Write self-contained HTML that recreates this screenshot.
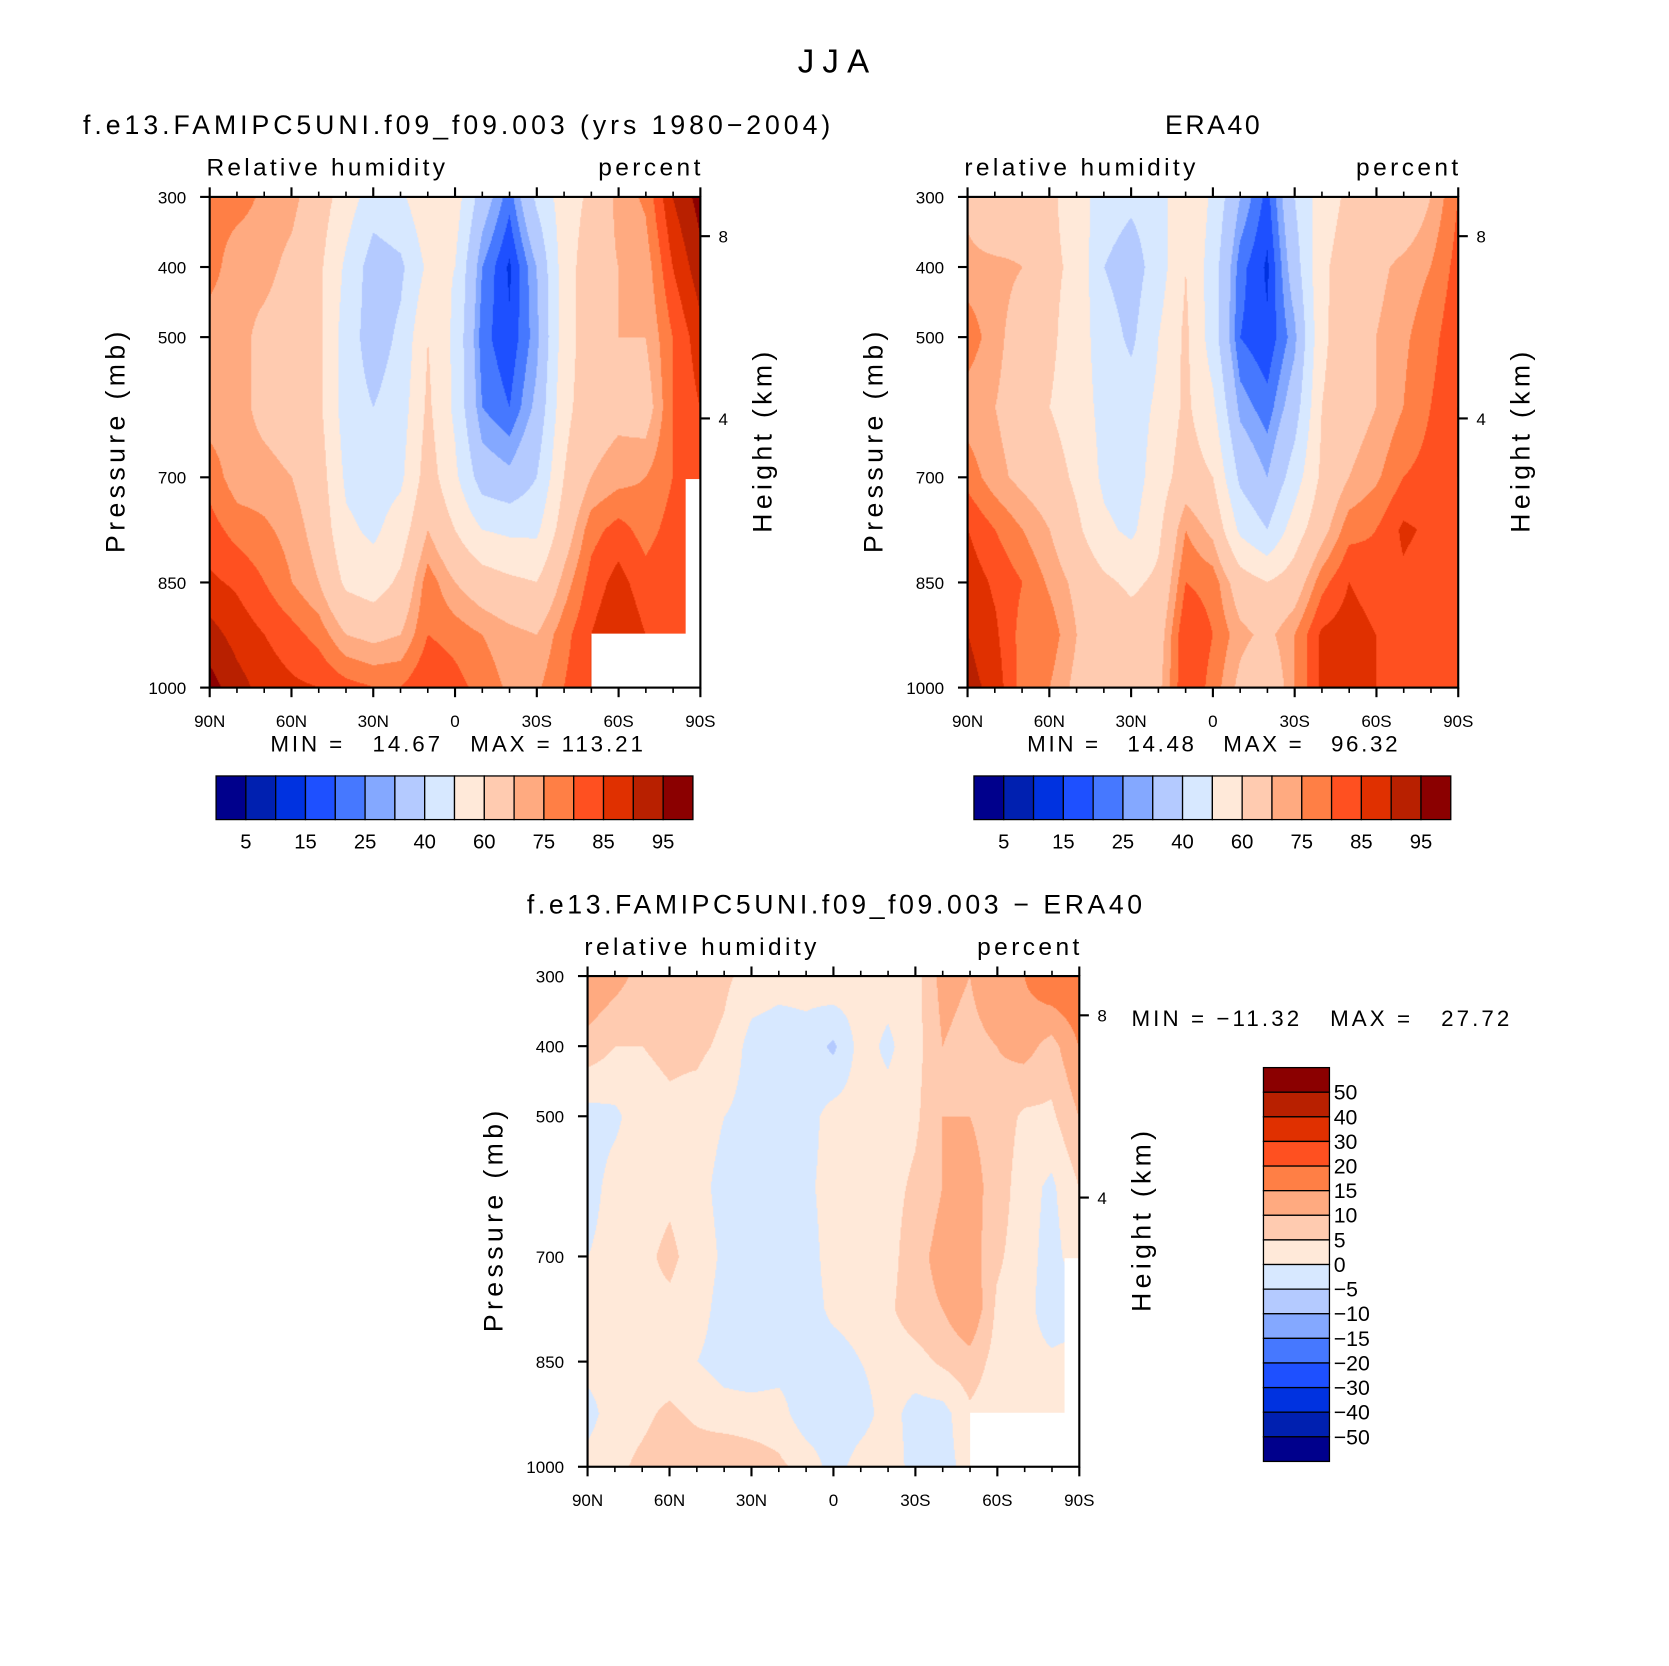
<!DOCTYPE html>
<html><head><meta charset="utf-8"><style>
html,body{margin:0;padding:0;background:#fff;width:1669px;height:1666px;overflow:hidden}
#wrap{position:absolute;left:0;top:0;width:1568px;height:1565px;transform:scale(1.06441);transform-origin:0 0}
canvas{position:absolute}
svg{position:absolute;left:0;top:0}
text{font-family:"Liberation Sans",sans-serif;fill:#000;white-space:pre}
</style></head><body>
<div id="wrap">
<canvas id="c1" width="461" height="461" style="left:197px;top:185px"></canvas>
<canvas id="c2" width="461" height="461" style="left:909px;top:185px"></canvas>
<canvas id="c3" width="462" height="461" style="left:552px;top:917px"></canvas>
<svg id="svg" width="1568" height="1565" viewBox="0 0 1568 1565"></svg>
</div>
<script>
const lats=["90N","80N","70N","60N","50N","40N","30N","20N","10N","0","10S","20S","30S","40S","50S","60S","70S","80S","90S"];
const levels=[300,400,500,600,700,775,850,925,1000];
const xTickLabels=["90N","60N","30N","0","30S","60S","90S"];
const pTicks=[300,400,500,700,850,1000];
const hTicks=[{km:8,p:356},{km:4,p:616}];
const rhBounds=[5,10,15,20,25,30,40,50,60,70,75,80,85,90,95];
const rhLabels=["5","15","25","40","60","75","85","95"];
const diffBounds=[-50,-40,-30,-20,-15,-10,-5,0,5,10,15,20,30,40,50];
const diffLabels=["50","40","30","20","15","10","5","0","−5","−10","−15","−20","−30","−40","−50"];
const palette=["#00008c","#0020b0","#0032e0","#1e50ff","#4678ff","#84a8ff","#b4caff","#d7e8ff","#ffe9d9","#ffcbb0","#ffaa80","#ff7f45","#ff5020","#e03000","#b82000","#8b0000"];
const modelRH=[
[77,77,72,72,78,82,86,92,97],[77,72,72,72,72,78,84,88,92],[74,72,68,68,72,76,80,85,88],
[72,68,66,66,70,73,75,82,86],[65,62,62,62,65,67,70,78,85],[55,48,45,45,48,52,58,70,82],
[45,35,35,40,45,48,55,68,80],[48,38,42,45,48,55,62,70,80],[58,52,60,62,65,70,78,80,85],
[55,50,48,48,52,60,70,78,82],[35,25,22,25,35,50,65,75,78],[22,14,16,20,32,48,62,72,74],
[42,30,28,32,40,48,60,70,74],[55,55,55,57,60,65,72,78,80],[62,66,66,66,70,78,82,85,85],
[72,70,70,68,73,82,87,90,90],[76,72,70,66,75,78,82,85,85],[90,85,80,80,80,82,84,84,85],
[97,93,88,85,85,82,82,82,82]];
const eraRH=[
[68,72,78,72,78,85,88,90,92],[60,72,72,70,72,80,84,86,88],[65,70,66,66,68,75,80,78,78],
[62,62,62,60,65,70,74,78,75],[55,58,55,55,58,62,68,70,68],[45,40,45,47,48,52,62,68,68],
[42,35,38,45,45,48,58,65,66],[45,45,50,52,55,58,62,66,68],[60,60,62,62,65,75,80,85,85],
[48,45,45,52,60,68,78,80,78],[30,22,20,28,38,48,65,72,68],[18,14,16,22,30,40,60,68,62],
[40,35,28,35,45,55,65,75,75],[55,58,58,60,62,67,78,86,86],[62,65,66,66,70,78,85,88,88],
[62,68,70,70,74,80,82,85,85],[62,72,74,75,80,86,84,80,82],[70,75,78,80,82,84,82,80,82],
[80,82,84,85,85,84,82,82,84]];
const diffRH=[
[15,8,-2,-2,0,2,2,-2,2],[12,5,-1,2,2,2,2,3,4],[8,5,3,3,4,4,3,4,6],[6,6,4,4,6,4,2,6,8],
[8,6,3,2,3,2,0,4,8],[6,4,0,-2,-1,-2,-2,2,10],[3,-2,-2,-2,-2,-2,-3,2,8],[2,-3,-3,-2,-3,-3,-2,2,6],
[2,-2,-2,-1,-2,-2,-2,-3,3],[4,-6,2,2,2,1,-2,-3,-2],[2,2,2,3,2,2,0,-2,2],[2,-1,2,3,3,4,2,2,3],
[3,3,4,6,8,8,3,-2,-2],[12,10,10,10,12,10,6,-2,-2],[10,8,10,12,13,15,8,4,2],[15,10,8,8,6,4,3,2,2],
[15,12,4,2,2,2,2,2,2],[20,8,4,-1,-2,-3,1,2,2],[20,15,10,5,3,-2,2,2,2]];

function levIndex(p){for(let i=0;i<levels.length-1;i++){if(p<=levels[i+1])return i+(p-levels[i])/(levels[i+1]-levels[i]);}return levels.length-1;}
function drawField(id,data,bounds){
  const cv=document.getElementById(id),ctx=cv.getContext('2d'),W=cv.width,H=cv.height;
  const img=ctx.createImageData(W,H);
  const rgb=palette.map(h=>[parseInt(h.substr(1,2),16),parseInt(h.substr(3,2),16),parseInt(h.substr(5,2),16)]);
  for(let y=0;y<H;y++){
    const li=levIndex(300+700*y/(H-1));const j0=Math.min(Math.floor(li),levels.length-2),fy=li-j0;
    for(let x=0;x<W;x++){
      const fi=18*x/(W-1);const i0=Math.min(Math.floor(fi),17),fx=fi-i0;
      const v=(data[i0][j0]*(1-fx)+data[i0+1][j0]*fx)*(1-fy)+(data[i0][j0+1]*(1-fx)+data[i0+1][j0+1]*fx)*fy;
      let k=0;while(k<bounds.length&&v>=bounds[k])k++;
      const c=rgb[k],o=4*(y*W+x);img.data[o]=c[0];img.data[o+1]=c[1];img.data[o+2]=c[2];img.data[o+3]=255;
    }}
  ctx.putImageData(img,0,0);
}
drawField('c1',modelRH,rhBounds);drawField('c2',eraRH,rhBounds);drawField('c3',diffRH,diffBounds);

const svg=document.getElementById('svg');const NS="http://www.w3.org/2000/svg";
function el(tag,attrs,txt){const e=document.createElementNS(NS,tag);for(const k in attrs)e.setAttribute(k,attrs[k]);if(txt!==undefined)e.textContent=txt;svg.appendChild(e);return e;}
function txt(x,y,s,size,anchor,name,len){const t=el('text',{x:x,y:y,'font-size':size,'text-anchor':anchor||'start'},s);
if(len){t.setAttribute('textLength',len);t.setAttribute('lengthAdjust','spacing');}

return t;}

function panel(L,T,W,H,pfx,left,leftLen,right,minmax,mmx,mmy,mmAnchor,mmLen,missing){
  const X=i=>L+W*i/18, P=p=>T+H*(p-300)/700;
  if(missing){
  const r=el('rect',{x:L+W*0.778,y:T+H*0.89,width:W*0.222,height:H*0.11,fill:'#fff'});
  
  
  const r2=el('rect',{x:L+W*0.97,y:T+H*0.575,width:W*0.03,height:H*0.43,fill:'#fff'});
  
  }
  const b=el('rect',{x:L,y:T,width:W,height:H,fill:'none',stroke:'#000','stroke-width':2});
  
  
  for(let i=0;i<=18;i++){const maj=i%3===0,len=maj?9:5;
    el('line',{x1:X(i),x2:X(i),y1:T,y2:T-len,stroke:'#000','stroke-width':maj?2:1.5});
    el('line',{x1:X(i),x2:X(i),y1:T+H,y2:T+H+len,stroke:'#000','stroke-width':maj?2:1.5});}
  xTickLabels.forEach((s,k)=>txt(X(k*3),T+H+37,s,16,'middle',pfx+'-x-tick-label'));
  pTicks.forEach(p=>{el('line',{x1:L,x2:L-9,y1:P(p),y2:P(p),stroke:'#000','stroke-width':2});
    txt(L-22,P(p)+6,String(p),16,'end',pfx+'-y-tick-label');});
  hTicks.forEach(h=>{el('line',{x1:L+W,x2:L+W+9,y1:P(h.p),y2:P(h.p),stroke:'#000','stroke-width':2});
    txt(L+W+17,P(h.p)+6,String(h.km),16,'start',pfx+'-height-tick-label');});
  txt(L-3,T-20,left,23,'start',pfx+'-variable-label',leftLen);
  txt(L+W,T-20,right,23,'end',pfx+'-units-label',96);
  let t=txt(0,0,'Pressure (mb)',25,'middle',pfx+'-y-axis-title',208);t.setAttribute('transform',`translate(${L-80},${T+H/2}) rotate(-90)`);
  t=txt(0,0,'Height (km)',25,'middle',pfx+'-right-axis-title',170);t.setAttribute('transform',`translate(${L+W+67},${T+H/2}) rotate(-90)`);
  txt(mmx,mmy,minmax,21,mmAnchor,pfx+'-min-max',mmLen);
}
function hbar(L,T,pfx){
  for(let k=0;k<16;k++){const r=el('rect',{x:L+28*k,y:T,width:28,height:41,fill:palette[k],stroke:'#000','stroke-width':1.2});
    
    }
  rhLabels.forEach((s,k)=>txt(L+28*(2*k+1),T+68,s,19,'middle',pfx+'-colorbar-label'));
}
txt(783,68,'JJA',31,'middle','figure-title',67);
txt(78,126,'f.e13.FAMIPC5UNI.f09_f09.003 (yrs 1980−2004)',25,'start','model-panel-title',702);
txt(1139,126,'ERA40',25,'middle','era40-panel-title',89);
txt(784,858,'f.e13.FAMIPC5UNI.f09_f09.003 − ERA40',25,'middle','difference-panel-title',578);
panel(197,185,461,461,'model','Relative humidity',224,'percent','MIN =   14.67   MAX = 113.21',429,706,'middle',350,true);
panel(909,185,461,461,'era40','relative humidity',217,'percent','MIN =   14.48   MAX =   96.32',1139,706,'middle',348,false);
panel(552,917,462,461,'difference','relative humidity',218,'percent','MIN = −11.32   MAX =   27.72',1063,964,'start',355,true);
hbar(203,729,'model');hbar(915,729,'era40');
const vb=370/16;
for(let k=0;k<16;k++){const r=el('rect',{x:1187,y:1003+vb*k,width:62,height:vb,fill:palette[15-k],stroke:'#000','stroke-width':1.2});
  
  }
diffLabels.forEach((s,k)=>txt(1253,1003+vb*(k+1)+7,s,20,'start','difference-colorbar-label'));
</script>
</body></html>
